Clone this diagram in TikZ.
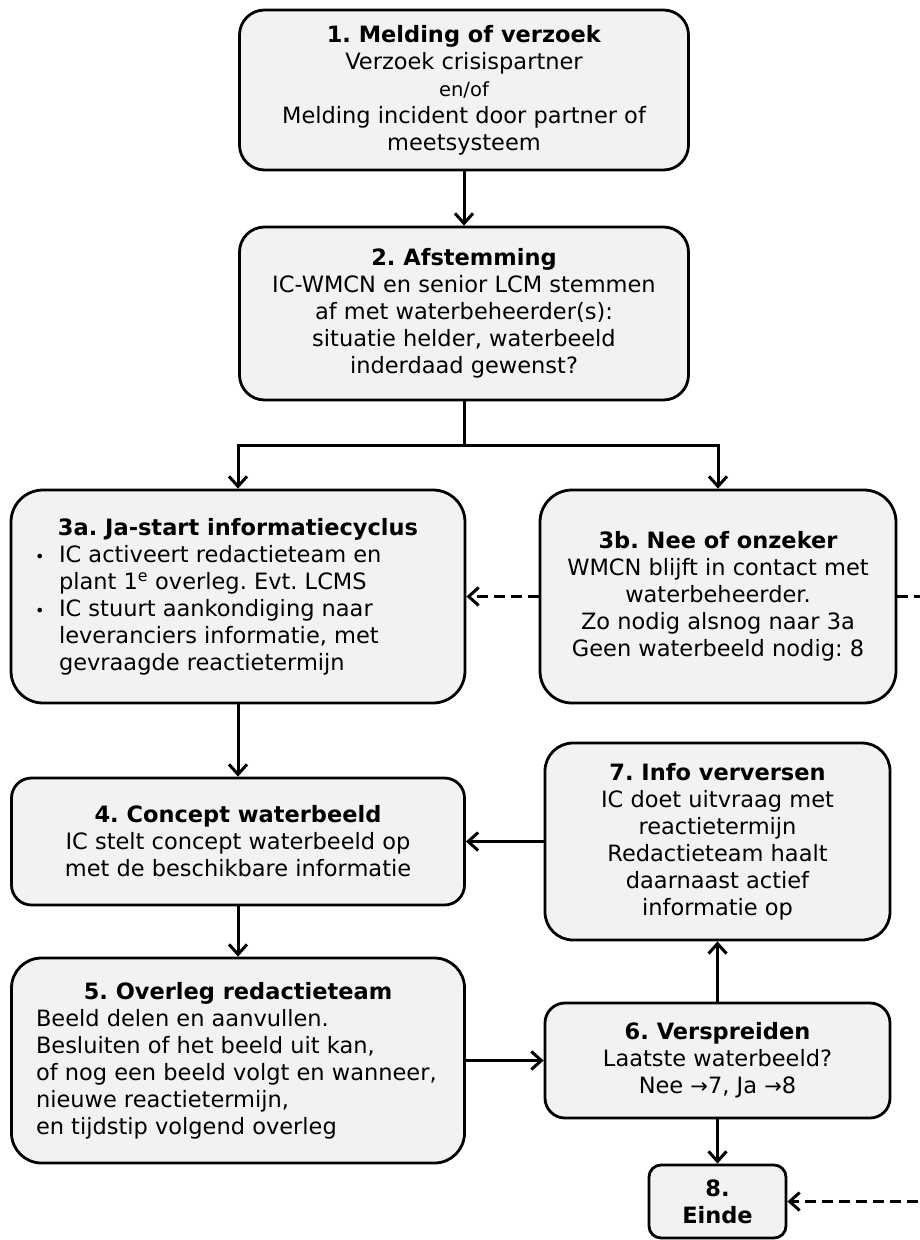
\documentclass[tikz,border=0pt]{standalone}
\usepackage{fontspec}
\setmainfont{DejaVu Sans}
\usetikzlibrary{arrows.meta}
\definecolor{boxfill}{HTML}{F2F2F2}
\frenchspacing
\begin{document}
\begin{tikzpicture}[x=1pt,y=-1pt,
  boxbase/.style={draw, line width=2.8pt, fill=boxfill, inner sep=0pt,
    font=\fontsize{22.5}{27}\selectfont\frenchspacing},
  box/.style={boxbase, align=center, rounded corners=25pt},
  boxL/.style={boxbase, rounded corners=32pt},
  arr/.style={line width=3pt, -{Straight Barb[length=10pt,width=18pt]}},
  dasharr/.style={arr, dash pattern=on 11pt off 6pt}]
\useasboundingbox (0,0) rectangle (919,1240);

\node[box, minimum width=449pt, minimum height=160pt] (n1) at (464,90)
  {\textbf{1. Melding of verzoek}\\Verzoek crisispartner\\{\fontsize{19.5}{27}\selectfont en/of}\\Melding incident door partner of\\meetsysteem};

\node[box, minimum width=449pt, minimum height=173pt] (n2) at (464,313.5)
  {\textbf{2. Afstemming}\\IC-WMCN en senior LCM stemmen\\af met waterbeheerder(s):\\situatie helder, waterbeeld\\inderdaad gewenst?};

\node[boxL, minimum width=454pt, minimum height=213pt] (n3a) at (238,596.5)
  {\begin{minipage}{418pt}\centering\textbf{3a. Ja-start informatiecyclus}\par
   \raggedright
   \makebox[30pt][l]{\hspace{6pt}{\fontsize{16}{27}\selectfont •}}IC activeert redactieteam en\\
   \hspace*{30pt}plant 1\textsuperscript{e} overleg. Evt. LCMS\\
   \makebox[30pt][l]{\hspace{6pt}{\fontsize{16}{27}\selectfont •}}IC stuurt aankondiging naar\\
   \hspace*{30pt}leveranciers informatie, met\\
   \hspace*{30pt}gevraagde reactietermijn\end{minipage}};

\node[box, rounded corners=32pt, minimum width=356pt, minimum height=213pt] (n3b) at (718,596.5)
  {\textbf{3b. Nee of onzeker}\\WMCN blijft in contact met\\waterbeheerder.\\Zo nodig alsnog naar 3a\\Geen waterbeeld nodig: 8};

\node[box, rounded corners=20pt, minimum width=453pt, minimum height=127pt] (n4) at (238,841.5)
  {\textbf{4. Concept waterbeeld}\\IC stelt concept waterbeeld op\\met de beschikbare informatie};

\node[boxL, rounded corners=30pt, minimum width=453pt, minimum height=205pt] (n5) at (238,1060.5)
  {\begin{minipage}{404pt}\centering\textbf{5. Overleg redactieteam}\par
   \raggedright
   Beeld delen en aanvullen.\\
   Besluiten of het beeld uit kan,\\
   of nog een beeld volgt en wanneer,\\
   nieuwe reactietermijn,\\
   en tijdstip volgend overleg\end{minipage}};

\node[box, rounded corners=28pt, minimum width=345pt, minimum height=197pt] (n7) at (717.5,841.5)
  {\textbf{7. Info verversen}\\IC doet uitvraag met\\reactietermijn\\Redactieteam haalt\\daarnaast actief\\informatie op};

\node[box, rounded corners=20pt, minimum width=345pt, minimum height=115pt] (n6) at (717.5,1060.5)
  {\textbf{6. Verspreiden}\\Laatste waterbeeld?\\Nee {\fontsize{21}{27}\selectfont →}7, Ja {\fontsize{21}{27}\selectfont →}8};

\node[box, rounded corners=12pt, minimum width=137pt, minimum height=73pt] (n8) at (717.5,1201.5)
  {\textbf{8.}\\\textbf{Einde}};

\coordinate (split) at (464,445);
\coordinate (offA) at (945,596.5);
\coordinate (offB) at (945,1201.5);

\draw[arr] (n1.south) -- (n2.north);
\draw[line width=3pt] (n2.south) -- (split);
\draw[arr] (split) -| (n3a.north);
\draw[arr] (split) -| (n3b.north);
\draw[dasharr] (n3b.west) -- (n3a.east);
\draw[dasharr] (n3b.east) -- (offA) -- (offB) -- (n8.east);
\draw[arr] (n3a.south) -- (n4.north);
\draw[arr] (n4.south) -- (n5.north);
\draw[arr] (n7.west) -- (n4.east);
\draw[arr] (n5.east) -- (n6.west);
\draw[arr] (n6.north) -- (n7.south);
\draw[arr] (n6.south) -- (n8.north);
\end{tikzpicture}
\end{document}
